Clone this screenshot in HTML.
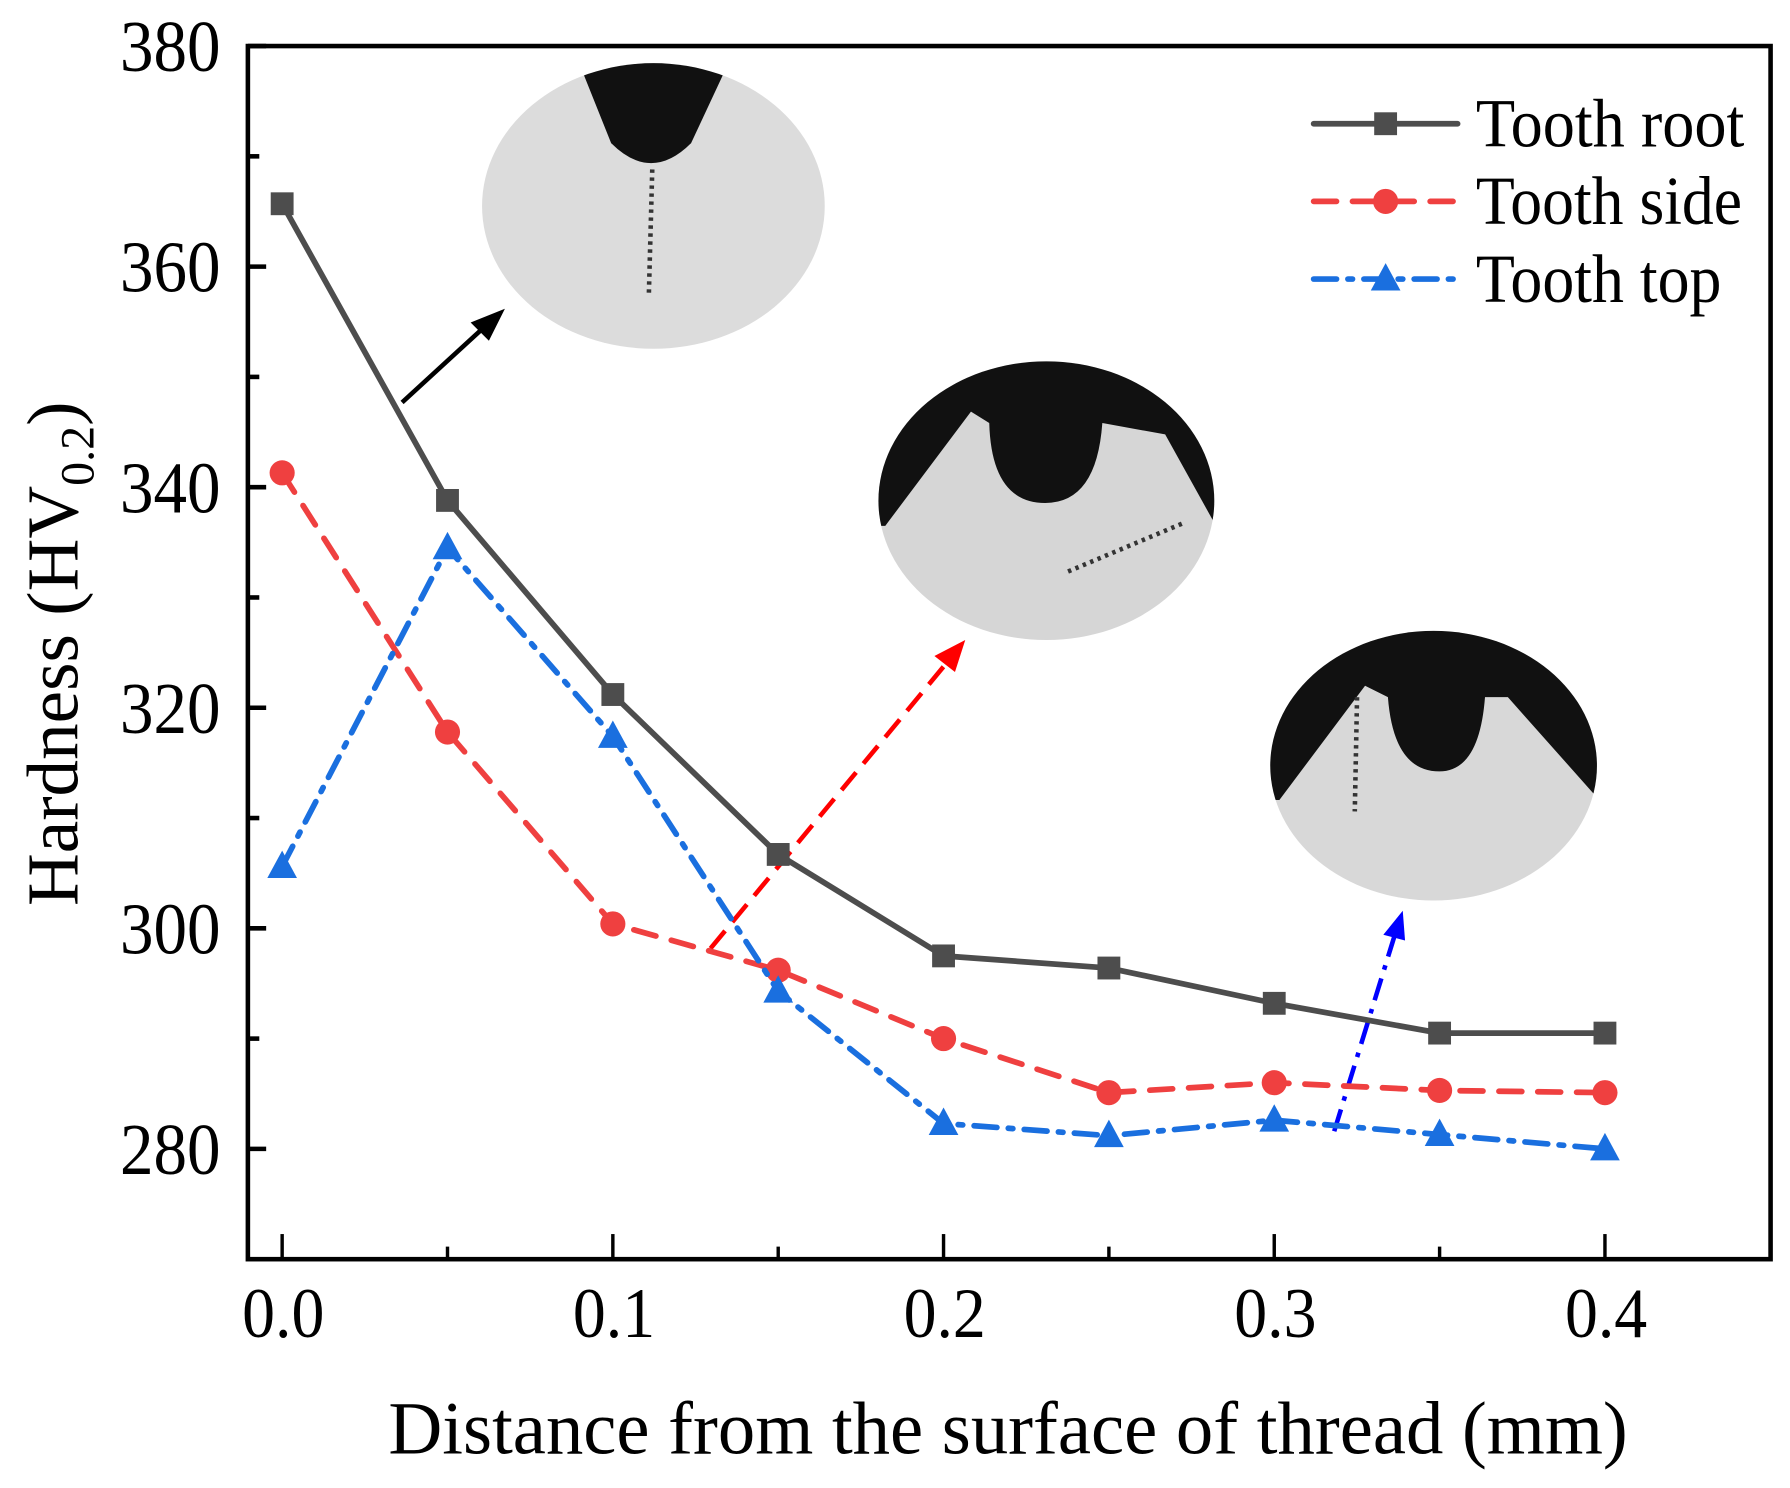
<!DOCTYPE html>
<html><head><meta charset="utf-8"><style>
html,body{margin:0;padding:0;background:#fff;}
svg{display:block;font-family:"Liberation Serif",serif;}
</style></head><body>
<svg id="chart" width="1790" height="1488" viewBox="0 0 1567 1302" xmlns="http://www.w3.org/2000/svg">
<defs>
<clipPath id="c1"><ellipse cx="572" cy="180" rx="150" ry="125"/></clipPath>
<clipPath id="c2"><ellipse cx="916" cy="438" rx="147" ry="122"/></clipPath>
<clipPath id="c3"><ellipse cx="1255" cy="670" rx="143" ry="118"/></clipPath>
</defs>
<g id="insets">
<g clip-path="url(#c1)">
<rect x="420" y="50" width="310" height="260" fill="#dcdcdc"/>
<path d="M505,50 L535,125 Q570,160 605,125 L640,50 Z" fill="#111"/>
<line x1="571" y1="148" x2="568" y2="258" stroke="#333" stroke-width="4" stroke-dasharray="3 4"/>
</g>
<g clip-path="url(#c2)">
<rect x="765" y="310" width="305" height="260" fill="#d6d6d6"/>
<path d="M765,310 L1070,310 L1070,470 L1020,380 L965,370 Q960,440 915,440 Q868,440 866,370 L850,360 L775,460 L765,460 Z" fill="#111"/>
<line x1="935" y1="500" x2="1035" y2="458" stroke="#333" stroke-width="4" stroke-dasharray="3 4"/>
</g>
<g clip-path="url(#c3)">
<rect x="1110" y="550" width="290" height="240" fill="#d8d8d8"/>
<path d="M1110,550 L1400,550 L1400,700 L1320,610 L1300,610 Q1295,675 1260,675 Q1220,675 1215,610 L1195,600 L1120,700 L1110,700 Z" fill="#111"/>
<line x1="1188" y1="610" x2="1186" y2="710" stroke="#333" stroke-width="4" stroke-dasharray="3 4"/>
</g>
</g>
<g id="arrows">
<line x1="352" y1="352" x2="425" y2="285" stroke="#000" stroke-width="4"/>
<polygon points="442,270 412,282 428,298" fill="#000"/>
<line x1="622" y1="830" x2="832" y2="576" stroke="#f00" stroke-width="4" stroke-dasharray="20 10"/>
<polygon points="845,560 818,574 836,588" fill="#f00"/>
<line x1="1168" y1="990" x2="1222" y2="815" stroke="#00f" stroke-width="4" stroke-dasharray="20 8 4 8"/>
<polygon points="1228,797 1211,818 1230,823" fill="#00f"/>
</g>
<g id="axes"></g>
<g id="series"></g>
<g id="legend"></g>
</svg>
<script>
const xValues = [0, 0.05, 0.1, 0.15, 0.2, 0.25, 0.3, 0.35, 0.4];
const toothRoot = [365.7, 338.8, 321.2, 306.7, 297.5, 296.4, 293.2, 290.5, 290.5];
const toothSide = [341.3, 317.8, 300.4, 296.2, 290.0, 285.1, 286.0, 285.3, 285.1];
const toothTop = [305.6, 334.5, 317.4, 294.3, 282.3, 281.2, 282.6, 281.3, 280.0];
const yTicks = [280, 300, 320, 340, 360, 380];
const yMinor = [290, 310, 330, 350, 370];
const xTicks = [0, 0.1, 0.2, 0.3, 0.4];
const xMinor = [0.05, 0.15, 0.25, 0.35];
const xTickLabels = ["0.0", "0.1", "0.2", "0.3", "0.4"];

const NS = "http://www.w3.org/2000/svg";
const L = 217, R = 1550, T = 40, B = 1102;
function xs(v){ return 247 + (v - 0) / 0.4 * (1405 - 247); }
function ys(v){ return B - (v - 270) / (380 - 270) * (B - T); }
function mk(tag, attrs, parent){
  const e = document.createElementNS(NS, tag);
  for (const k in attrs) e.setAttribute(k, attrs[k]);
  parent.appendChild(e); return e;
}
const axes = document.getElementById('axes');
const fr = mk('rect', {x:L, y:T, width:R-L, height:B-T, fill:'none', stroke:'#000', 'stroke-width':4}, axes);


yTicks.forEach(v => {
  const t = mk('line', {x1:L, x2:L+16, y1:ys(v), y2:ys(v), stroke:'#000', 'stroke-width':4}, axes);
  
  
  const lb = mk('text', {x:105, y:ys(v)+22, 'font-size':64, textLength:88, lengthAdjust:'spacingAndGlyphs'}, axes);
  lb.textContent = v;
  
  
});
yMinor.forEach(v => {
  const t = mk('line', {x1:L, x2:L+10, y1:ys(v), y2:ys(v), stroke:'#000', 'stroke-width':4}, axes);
  
  
});
xTicks.forEach((v, i) => {
  const t = mk('line', {x1:xs(v), x2:xs(v), y1:B, y2:B-22, stroke:'#000', 'stroke-width':3}, axes);
  
  
  const lb = mk('text', {x:xs(v)-35, y:1170, 'font-size':62, textLength:72, lengthAdjust:'spacingAndGlyphs'}, axes);
  lb.textContent = xTickLabels[i];
  
  
});
xMinor.forEach(v => {
  const t = mk('line', {x1:xs(v), x2:xs(v), y1:B, y2:B-11, stroke:'#000', 'stroke-width':3}, axes);
  
  
});
const xt = mk('text', {x:340, y:1272, 'font-size':66, textLength:1085, lengthAdjust:'spacingAndGlyphs'}, axes);
xt.textContent = 'Distance from the surface of thread (mm)';


const yt = mk('text', {x:0, y:0, 'text-anchor':'middle', 'font-size':64, transform:'translate(68,572) rotate(-90)'}, axes);
yt.innerHTML = 'Hardness (HV<tspan font-size="42" dy="14">0.2</tspan><tspan dy="-14">)</tspan>';



const series = document.getElementById('series');
const defs = [
  {name:'tooth-root', data:toothRoot, color:'#4d4d4d', dash:'', marker:'square'},
  {name:'tooth-side', data:toothSide, color:'#ef4040', dash:'20 14', marker:'circle'},
  {name:'tooth-top', data:toothTop, color:'#1a6fdf', dash:'20 10 4 10', marker:'triangle'}
];
function marker(type, x, y, color, parent){
  let m;
  if (type === 'square') m = mk('rect', {x:x-10, y:y-10, width:20, height:20, fill:color}, parent);
  else if (type === 'circle') m = mk('circle', {cx:x, cy:y, r:11, fill:color}, parent);
  else m = mk('polygon', {points:`${x},${y-14} ${x-13},${y+10} ${x+13},${y+10}`, fill:color}, parent);
  return m;
}
defs.forEach(s => {
  const g = mk('g', {}, series);
  
  
  const pts = xValues.map((x, i) => xs(x) + ',' + ys(s.data[i])).join(' ');
  const pl = mk('polyline', {points:pts, fill:'none', stroke:s.color, 'stroke-width':5, 'stroke-dasharray':s.dash, 'stroke-linecap':'round'}, g);
  
  
  xValues.forEach((x, i) => {
    const m = marker(s.marker, xs(x), ys(s.data[i]), s.color, g);
    
    
  });
});
const legend = document.getElementById('legend');
const labels = ['Tooth root', 'Tooth side', 'Tooth top'];
const labelW = [235, 233, 215];
defs.forEach((s, i) => {
  const y = 108 + i * 68;
  const g = mk('g', {}, legend);
  
  
  mk('line', {x1:1150, x2:1276, y1:y, y2:y, stroke:s.color, 'stroke-width':5, 'stroke-dasharray':s.dash, 'stroke-linecap':'round'}, g);
  marker(s.marker, 1213, y, s.color, g);
  const t = mk('text', {x:1292, y:y+20, 'font-size':60, textLength:labelW[i], lengthAdjust:'spacingAndGlyphs'}, g);
  t.textContent = labels[i];
});
</script>
</body></html>
